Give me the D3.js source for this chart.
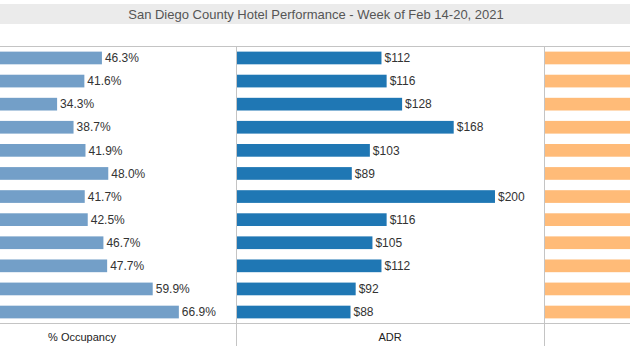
<!DOCTYPE html>
<html>
<head>
<meta charset="utf-8">
<script src="https://cdn.jsdelivr.net/npm/d3@7"></script>
<style>
  body { margin: 0; background: #fff; }
  svg { display: block; font-family: Arial, "Liberation Sans", sans-serif; }
</style>
</head>
<body>
<script>
(function (d3) {
  "use strict";

  /***** Data *****/
  // row labels sit off the left edge of the picture, so only order matters here
  var rows = ["r1", "r2", "r3", "r4", "r5", "r6", "r7", "r8", "r9", "r10", "r11", "r12"];
  var occupancy = [46.3, 41.6, 34.3, 38.7, 41.9, 48.0, 41.7, 42.5, 46.7, 47.7, 59.9, 66.9];
  var adr = [112, 116, 128, 168, 103, 89, 200, 116, 105, 112, 92, 88];
  // third measure is cut off at the right edge; rough estimates
  var revpar = [51.9, 48.3, 43.9, 65.0, 43.2, 42.7, 83.4, 49.3, 49.0, 53.4, 55.1, 58.9];
  var axisTitles = ["% Occupancy", "ADR", "RevPAR"];
  var title = "San Diego County Hotel Performance - Week of Feb 14-20, 2021";

  /***** Layout *****/
  var width = 630, height = 350;
  var panelW = 308;
  var panelX = [-72, 236, 544];
  var top = 46, bottom = 323;
  var lineColor = "#c4c4c4";

  var svg = d3.select("body").append("svg")
      .attr("width", width)
      .attr("height", height);

  // title band
  svg.append("rect")
      .attr("x", 0).attr("y", 4)
      .attr("width", width).attr("height", 20)
      .attr("fill", "#ebebeb");
  svg.append("text")
      .attr("x", 316).attr("y", 18.5)
      .attr("text-anchor", "middle")
      .attr("font-size", 13)
      .attr("fill", "#555")
      .text(title);

  /***** Scales *****/
  var yScale = d3.scaleBand()
      .domain(rows)
      .range([top + 1, bottom])
      .paddingInner(0.45)
      .paddingOuter(0.2);

  var panels = [
    { values: occupancy, max: 82.2, color: "#739fc8", fmt: function (v) { return v.toFixed(1) + "%"; } },
    { values: adr, max: 238, color: "#1f77b4", fmt: function (v) { return "$" + v; } },
    { values: revpar, max: 100, color: "#ffbb78", fmt: null }
  ];

  panels.forEach(function (p, i) {
    var x = d3.scaleLinear()
        .domain([0, p.max])
        .range([panelX[i] + 1, panelX[i] + panelW]);

    var g = svg.append("g");

    g.selectAll("rect")
        .data(p.values)
        .enter().append("rect")
        .attr("x", x(0))
        .attr("y", function (d, j) { return yScale(rows[j]); })
        .attr("width", function (d) { return x(d) - x(0); })
        .attr("height", yScale.bandwidth())
        .attr("fill", p.color);

    // the third panel's labels fall outside the picture
    if (!p.fmt) return;

    g.selectAll("text")
        .data(p.values)
        .enter().append("text")
        .attr("x", function (d) { return x(d) + 3; })
        .attr("y", function (d, j) { return yScale(rows[j]) + yScale.bandwidth() / 2; })
        .attr("dy", "0.35em")
        .attr("font-size", 12)
        .attr("fill", "#333")
        .text(function (d) { return p.fmt(d); });

    svg.append("text")
        .attr("x", panelX[i] + panelW / 2)
        .attr("y", 341)
        .attr("text-anchor", "middle")
        .attr("font-size", 11)
        .attr("fill", "#222")
        .text(axisTitles[i]);
  });

  /***** Grid lines *****/
  [top, bottom].forEach(function (y) {
    svg.append("line")
        .attr("x1", 0).attr("x2", width)
        .attr("y1", y + 0.5).attr("y2", y + 0.5)
        .attr("stroke", lineColor);
  });
  panelX.slice(1).forEach(function (px) {
    svg.append("line")
        .attr("x1", px + 0.5).attr("x2", px + 0.5)
        .attr("y1", top).attr("y2", 346)
        .attr("stroke", lineColor);
  });

})(d3);
</script>
</body>
</html>
